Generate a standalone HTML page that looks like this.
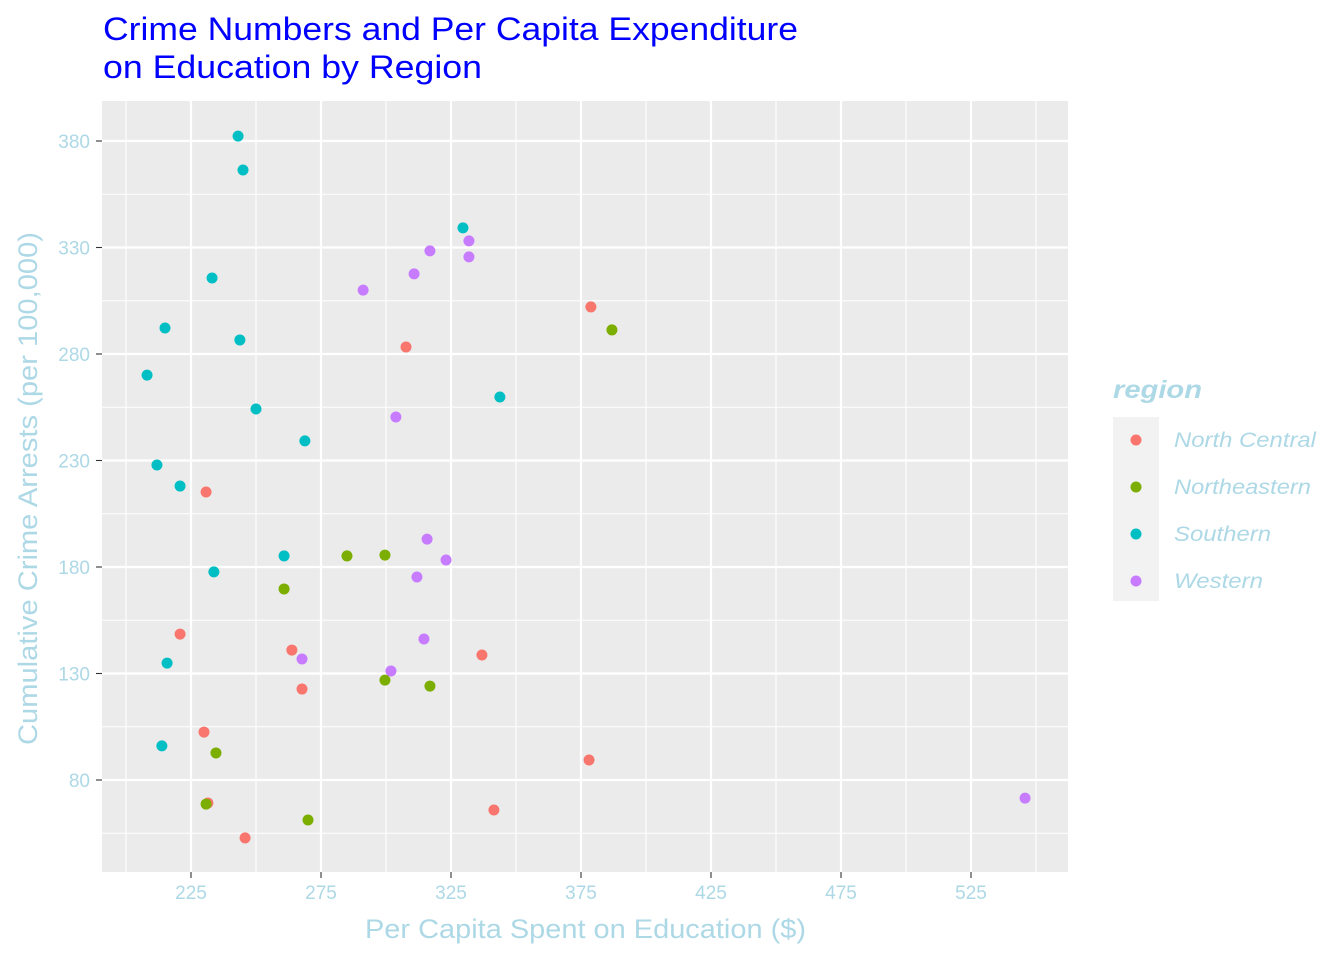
<!DOCTYPE html>
<html><head><meta charset="utf-8"><style>
body{margin:0;background:#fff;}
svg{font-family:"Liberation Sans",sans-serif;display:block;}
</style></head><body>
<svg id="chart" width="1344" height="960" viewBox="0 0 1344 960">
<text x="103" y="40" font-size="32" fill="#0000FF" textLength="695" lengthAdjust="spacingAndGlyphs">Crime Numbers and Per Capita Expenditure</text>
<text x="103" y="78" font-size="32" fill="#0000FF" textLength="379" lengthAdjust="spacingAndGlyphs">on Education by Region</text>
<rect x="102" y="101" width="966" height="771" fill="#EBEBEB"/>
<g id="grid"></g>
<g id="points"></g>
<g id="axes"></g>
<text x="365" y="938" font-size="27" fill="#ADD8E6" textLength="441" lengthAdjust="spacingAndGlyphs">Per Capita Spent on Education ($)</text>
<text transform="translate(37,745) rotate(-90)" font-size="27" fill="#ADD8E6" textLength="513" lengthAdjust="spacingAndGlyphs">Cumulative Crime Arrests (per 100,000)</text>
<text x="1113" y="398" font-size="25" font-weight="bold" font-style="italic" fill="#ADD8E6" textLength="89" lengthAdjust="spacingAndGlyphs">region</text>
<rect x="1113" y="417" width="46" height="184" fill="#F2F2F2"/>
<g id="legend"></g>
</svg>
<script>
const regions = ["North Central","Northeastern","Southern","Western"];
const colors = ["#F8766D","#7CAE00","#00BFC4","#C77CFF"];
const ncX = [378.8,307.7,230.8,220.8,263.8,336.9,267.7,230,378.1,231.5,341.5,245.8];
const ncY = [302.1,283.3,215.2,148.5,141.0,138.7,122.7,102.5,89.4,69.2,65.9,52.8];
const neX = [386.9,285,299.6,260.8,299.6,316.9,234.6,230.8,270];
const neY = [291.3,185.2,185.6,169.7,126.9,124.1,92.7,68.7,61.2];
const soX = [243.1,245,329.6,233.1,215,243.8,208.1,343.8,250,268.8,211.9,220.8,260.8,233.8,215.8,213.8];
const soY = [382.3,366.4,339.2,315.7,292.2,286.6,270.1,259.8,254.2,239.2,227.9,218.0,185.2,177.7,134.9,96.0];
const weX = [331.9,316.9,331.9,310.8,291.2,303.8,315.8,323.1,311.9,314.6,267.7,301.9,545.8];
const weY = [333.1,328.4,325.6,317.6,310.0,250.4,193.1,183.3,175.3,146.2,136.8,131.2,71.5];
const xTicks = [225,275,325,375,425,475,525];
const yTicks = [80,130,180,230,280,330,380];
const xMinor = [200,250,300,350,400,450,500,550];
const yMinor = [55,105,155,205,255,305,355];
const legendWidths = [142,137,97,89];
const NS="http://www.w3.org/2000/svg";
const sx = v => 191 + (v-225)*2.6;
const sy = v => 780 - (v-80)*2.13;
function mk(tag, attrs, parent){const e=document.createElementNS(NS,tag);for(const k in attrs)e.setAttribute(k,attrs[k]);parent.appendChild(e);return e;}
const grid=document.getElementById('grid'), axes=document.getElementById('axes'), pts=document.getElementById('points'), leg=document.getElementById('legend');
xMinor.forEach(v=>{const l=mk('line',{x1:sx(v),x2:sx(v),y1:101,y2:872,stroke:'#fff','stroke-width':1.1},grid);

});
yMinor.forEach(v=>{const l=mk('line',{x1:102,x2:1068,y1:sy(v),y2:sy(v),stroke:'#fff','stroke-width':1.1},grid);

});
xTicks.forEach(v=>{const l=mk('line',{x1:sx(v),x2:sx(v),y1:101,y2:872,stroke:'#fff','stroke-width':2.2},grid);


const t=mk('line',{x1:sx(v),x2:sx(v),y1:872,y2:878,stroke:'#333','stroke-width':1.1},axes);


const tx=mk('text',{x:sx(v),y:899,'font-size':19,fill:'#ADD8E6','text-anchor':'middle'},axes);tx.textContent=v;

});
yTicks.forEach(v=>{const l=mk('line',{x1:102,x2:1068,y1:sy(v),y2:sy(v),stroke:'#fff','stroke-width':2.2},grid);


const t=mk('line',{x1:96,x2:102,y1:sy(v),y2:sy(v),stroke:'#333','stroke-width':1.1},axes);


const tx=mk('text',{x:90,y:sy(v)+7,'font-size':19,fill:'#ADD8E6','text-anchor':'end'},axes);tx.textContent=v;

});
const series=[[ncX,ncY],[neX,neY],[soX,soY],[weX,weY]];
series.forEach((s,i)=>{s[0].forEach((xv,j)=>{const c=mk('circle',{cx:sx(xv),cy:sy(s[1][j]),r:5.5,fill:colors[i]},pts);

});});
regions.forEach((r,i)=>{const y=440+i*47;
const c=mk('circle',{cx:1136,cy:y,r:5.5,fill:colors[i]},leg);


const t=mk('text',{x:1174,y:y+7,'font-size':21,'font-style':'italic',fill:'#ADD8E6',textLength:legendWidths[i],lengthAdjust:'spacingAndGlyphs'},leg);t.textContent=r;

});
</script>
</body></html>
